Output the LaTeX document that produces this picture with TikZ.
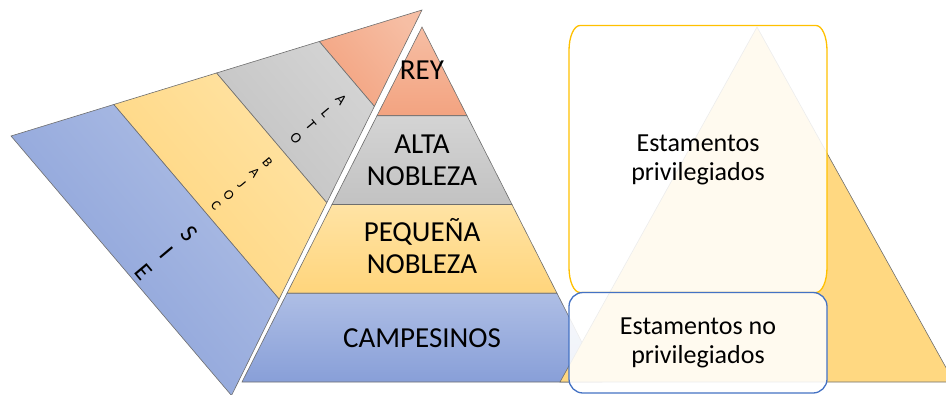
\documentclass[tikz,border=0pt]{standalone}
\usepackage{fontspec}
\setmainfont{Carlito}
\usetikzlibrary{calc}
\definecolor{orT}{HTML}{F6BEA4}
\definecolor{orB}{HTML}{F3A380}
\definecolor{grT}{HTML}{D4D4D4}
\definecolor{grB}{HTML}{C2C2C2}
\definecolor{yeT}{HTML}{FFE3A4}
\definecolor{yeB}{HTML}{FFD57C}
\definecolor{blT}{HTML}{AEBEE5}
\definecolor{blB}{HTML}{889FD8}
\definecolor{edgegray}{HTML}{6E6E6E}
\definecolor{triyellow}{HTML}{FFD881}
\definecolor{boxyellow}{HTML}{FFC000}
\definecolor{boxblue}{HTML}{4472C4}
\begin{document}
\begin{tikzpicture}[x=1pt,y=-1pt,
  band/.style={draw=edgegray, line width=0.6pt},
  rband/.style 2 args={band, top color=#1, bottom color=#2, shading angle=-50},
  uband/.style 2 args={band, top color=#1, bottom color=#2},
  lab/.style={font=\fontsize{29}{31.7}\selectfont, align=center, text=black, inner sep=0pt},
  boxlab/.style={font=\fontsize{26}{28.3}\selectfont, align=center, text=black, inner sep=0pt},
  stack/.style={rotate=-50, align=center, text=black, inner sep=0pt}]
\useasboundingbox (0,0) rectangle (946,394);
% rotated pyramid
\coordinate (A) at (422,10);
\coordinate (B) at (11,136);
\coordinate (C) at (231.5,395.5);
\path[rband={orT}{orB}] (A) -- ($(A)!0.25!(B)$) -- ($(A)!0.25!(C)$) -- cycle;
\path[rband={grT}{grB}] ($(A)!0.25!(B)$) -- ($(A)!0.5!(B)$) -- ($(A)!0.5!(C)$) -- ($(A)!0.25!(C)$) -- cycle;
\path[rband={yeT}{yeB}] ($(A)!0.5!(B)$) -- ($(A)!0.75!(B)$) -- ($(A)!0.75!(C)$) -- ($(A)!0.5!(C)$) -- cycle;
\path[rband={blT}{blB}] ($(A)!0.75!(B)$) -- (B) -- (C) -- ($(A)!0.75!(C)$) -- cycle;
\node[stack, font=\fontsize{15}{19.6}\selectfont] (alto) at (318.5,119) {A\\L\\T\\O};
\node[stack, font=\fontsize{14}{16.9}\selectfont] (bajo) at (241.7,184) {B\\A\\J\\O\\C};
\node[stack, font=\fontsize{25}{29.7}\selectfont] (sie) at (166.5,253) {S\\I\\E};
% upright pyramid
\coordinate (P) at (422,27);
\coordinate (BL) at (242,382);
\coordinate (BR) at (602,382);
\path[uband={orT}{orB}] (P) -- ($(P)!0.25!(BL)$) -- ($(P)!0.25!(BR)$) -- cycle;
\path[uband={grT}{grB}] ($(P)!0.25!(BL)$) -- ($(P)!0.5!(BL)$) -- ($(P)!0.5!(BR)$) -- ($(P)!0.25!(BR)$) -- cycle;
\path[uband={yeT}{yeB}] ($(P)!0.5!(BL)$) -- ($(P)!0.75!(BL)$) -- ($(P)!0.75!(BR)$) -- ($(P)!0.5!(BR)$) -- cycle;
\path[uband={blT}{blB}] ($(P)!0.75!(BL)$) -- (BL) -- (BR) -- ($(P)!0.75!(BR)$) -- cycle;
\node[lab] (rey) at (422,70) {REY};
\node[lab] (alta) at (422,160) {ALTA\\NOBLEZA};
\node[lab] (peq) at (422,246) {PEQUEÑA\\NOBLEZA};
\node[lab] (camp) at (422,338) {CAMPESINOS};
% right triangle
\path[draw=edgegray, line width=0.6pt, fill=triyellow] (757,27) -- (560,382) -- (954,382) -- cycle;
% boxes
\path[draw=boxyellow, line width=1.3pt, fill=white, fill opacity=0.88]
  (569,50.5) .. controls (569,36.7) and (573.9,25.5) .. (580,25.5) -- (816,25.5)
  .. controls (822.1,25.5) and (827,36.7) .. (827,50.5) -- (827,267.5)
  .. controls (827,281.3) and (822.1,292.5) .. (816,292.5) -- (580,292.5)
  .. controls (573.9,292.5) and (569,281.3) .. (569,267.5) -- cycle;
\path[draw=boxblue, line width=1.3pt, fill=white, fill opacity=0.88, rounded corners=14pt]
  (569,292.5) rectangle (827,393);
\node[boxlab] (priv) at (698,160) {Estamentos\\privilegiados};
\node[boxlab] (nopriv) at (698,343) {Estamentos no\\privilegiados};
\end{tikzpicture}
\end{document}
